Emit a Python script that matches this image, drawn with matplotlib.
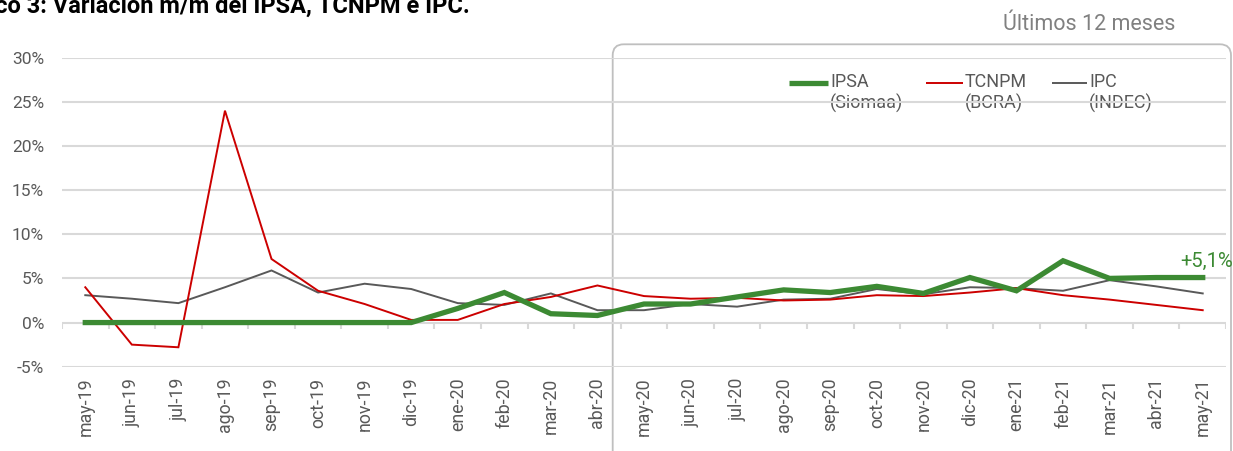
import numpy as np
import matplotlib
matplotlib.use("Agg")
from matplotlib import pyplot as plt
from matplotlib.patches import FancyBboxPatch

plt.rcParams['font.family'] = ['Roboto', 'DejaVu Sans']

meses = ['may-19', 'jun-19', 'jul-19', 'ago-19', 'sep-19', 'oct-19', 'nov-19', 'dic-19',
         'ene-20', 'feb-20', 'mar-20', 'abr-20', 'may-20', 'jun-20', 'jul-20', 'ago-20',
         'sep-20', 'oct-20', 'nov-20', 'dic-20', 'ene-21', 'feb-21', 'mar-21', 'abr-21', 'may-21']

# variacion mensual en %
ipsa = [0, 0, 0, 0, 0, 0, 0, 0, 1.6, 3.4, 1.0, 0.8, 2.1, 2.1, 2.9, 3.7,
        3.4, 4.1, 3.3, 5.1, 3.6, 7.0, 5.0, 5.1, 5.1]
tcnpm = [4.0, -2.5, -2.8, 24.0, 7.2, 3.6, 2.1, 0.3, 0.3, 2.1, 2.9, 4.2, 3.0, 2.7, 2.8, 2.5,
         2.6, 3.1, 3.0, 3.4, 3.9, 3.1, 2.6, 2.0, 1.4]
ipc = [3.1, 2.7, 2.2, 4.0, 5.9, 3.4, 4.4, 3.8, 2.2, 2.0, 3.3, 1.4, 1.4, 2.1, 1.8, 2.6,
       2.7, 3.8, 3.2, 4.0, 3.9, 3.6, 4.8, 4.1, 3.3]

series = ['IPSA', 'TCNPM', 'IPC']
etiquetas = ['IPSA\n(Siomaa)', 'TCNPM\n(BCRA)', 'IPC\n(INDEC)']
colores = ['#3c8a33', '#cc0000', '#595959']
grosores = [3.8, 1.4, 1.4]
yticks = [-5, 0, 5, 10, 15, 20, 25, 30]

W, H = 1233, 451
fig = plt.figure(figsize=(W / 100, H / 100), dpi=100)

# capa de fondo en pixeles para titulo, recuadro y leyenda
ov = fig.add_axes([0, 0, 1, 1], zorder=0)
ov.set_xlim(0, W)
ov.set_ylim(H, 0)
ov.axis('off')

ax = fig.add_axes([62 / W, 1 - 366.7 / H, (1226 - 62) / W, (366.7 - 57.7) / H], zorder=1)
ax.patch.set_alpha(0)

x = np.arange(len(meses))
gris_grid = '#d9d9d9'
for t in yticks:
    if t != 0:
        ax.axhline(t, color=gris_grid, lw=1.5, zorder=0)
ax.axhline(0, color=gris_grid, lw=1.5, zorder=0)
ax.vlines(np.arange(len(meses) + 1) - 0.5, -0.7, 0, color=gris_grid, lw=1.5, zorder=0)

datos = [ipsa, tcnpm, ipc]
orden = [2, 1, 0]
for i in orden:
    ax.plot(x, datos[i], color=colores[i], lw=grosores[i], solid_joinstyle='miter', zorder=3 + (i == 0))

ax.text(x[-1] + 0.65, ipsa[-1] + 0.7, '+5,1%', color=colores[0], fontsize=14.5,
        ha='right', va='bottom')

ax.set_xlim(-0.5, len(meses) - 0.5)
ax.set_ylim(-5, 30)
ax.set_yticks(yticks)
ax.set_yticklabels([f'{t}%' for t in yticks])
ax.set_xticks(x)
ax.set_xticklabels(meses, rotation=90)
ax.tick_params(axis='y', length=0, pad=13, labelsize=12.5, labelcolor='#595959')
ax.tick_params(axis='x', length=0, pad=8, labelsize=12.8, labelcolor='#595959')
for s in ax.spines.values():
    s.set_visible(False)

# recuadro "Ultimos 12 meses"
caja = FancyBboxPatch((612.7, 44.3), 1231 - 612.7, 420, boxstyle='round,pad=0,rounding_size=11',
                      fc='none', ec='#bfbfbf', lw=1.3)
ov.add_patch(caja)
ov.text(1089, 24, 'Últimos 12 meses', color='#808080', fontsize=15.5, ha='center', va='center')

# titulo (cortado arriba a la izquierda)
ov.text(470, 12.5, 'Gráfico 3: Variación m/m del IPSA, TCNPM e IPC.', fontsize=17,
        fontweight='bold', color='black', ha='right', va='baseline')

# leyenda
pos_leyenda = [(789, 828), (926, 963), (1052, 1087)]
for i in range(3):
    x0, x1 = pos_leyenda[i]
    ov.plot([x0, x1], [83, 83], color=colores[i], lw=grosores[i], solid_capstyle='butt')
    ov.text(x1 + 2, 73, etiquetas[i], color='#595959', fontsize=13, ha='left', va='top',
            linespacing=1.2)

fig.savefig('out.png', dpi=100)
